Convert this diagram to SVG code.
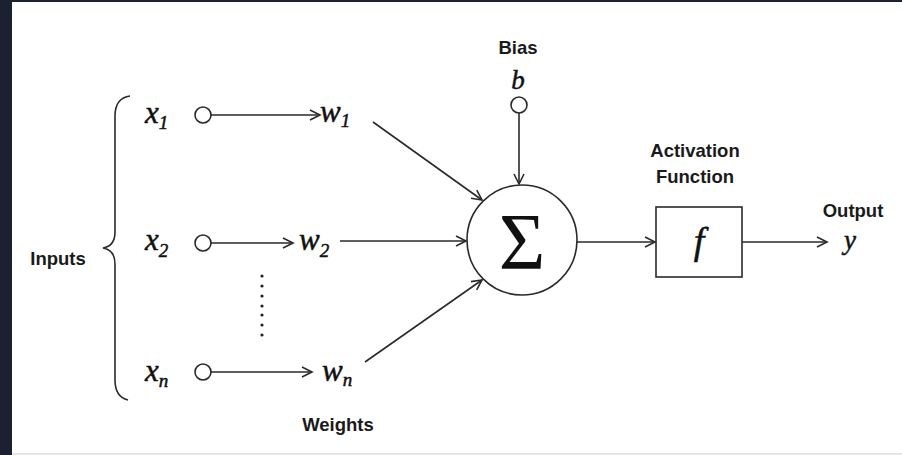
<svg xmlns="http://www.w3.org/2000/svg" width="902" height="455" viewBox="0 0 902 455">
<style>
.ln{stroke:#2a2a2a;stroke-width:1.6;fill:none}
.cir{stroke:#2a2a2a;stroke-width:1.6;fill:#fff}
.lbl{font-family:"Liberation Sans",Arial,sans-serif;font-size:18.5px;font-weight:bold;fill:#1a1a1a;text-anchor:middle}
.m{font-family:"Liberation Serif","Times New Roman",serif;font-style:italic;fill:#111;stroke:#111;stroke-width:0.5}
.v{font-size:31px}
.s{font-size:19px}
</style>
<defs>
<marker id="arr" markerUnits="userSpaceOnUse" markerWidth="14" markerHeight="14" refX="11" refY="6" orient="auto">
<path d="M1,1 L11,6 L1,11" fill="none" stroke="#2a2a2a" stroke-width="1.6"/>
</marker>
</defs>
<rect x="0" y="0" width="902" height="455" fill="#1b2130"/>
<rect x="12" y="2" width="890" height="451" fill="#fff"/>
<rect x="12" y="453" width="890" height="2" fill="#e6e6e6"/>

<g id="connectors">
<line class="ln" x1="211" y1="115" x2="320" y2="115" marker-end="url(#arr)"/>
<line class="ln" x1="211" y1="243" x2="293" y2="243" marker-end="url(#arr)"/>
<line class="ln" x1="211" y1="372" x2="312" y2="372" marker-end="url(#arr)"/>
<line class="ln" x1="373" y1="122" x2="482" y2="200" marker-end="url(#arr)"/>
<line class="ln" x1="340" y1="241" x2="466" y2="241" marker-end="url(#arr)"/>
<line class="ln" x1="365" y1="362" x2="482" y2="280" marker-end="url(#arr)"/>
<line class="ln" x1="519" y1="113" x2="519" y2="184" marker-end="url(#arr)"/>
<line class="ln" x1="577" y1="242" x2="655" y2="242" marker-end="url(#arr)"/>
<line class="ln" x1="742" y1="242" x2="827" y2="242" marker-end="url(#arr)"/>
</g>

<g id="inputs-brace">
<path class="ln" d="M130,96 Q115,98 115,116 L115,232 Q115,246 103,248 Q115,250 115,264 L115,380 Q115,397 128,400"/>
<text class="lbl" x="58" y="265">Inputs</text>
</g>

<g id="x1">
<text class="m" x="145" y="123"><tspan class="v">x</tspan><tspan class="s" dy="6">1</tspan></text>
<circle class="cir" cx="203" cy="115" r="8"/>
</g>
<g id="x2">
<text class="m" x="145" y="250"><tspan class="v">x</tspan><tspan class="s" dy="7">2</tspan></text>
<circle class="cir" cx="203" cy="243" r="8"/>
</g>
<g id="xn">
<text class="m" x="145" y="381"><tspan class="v">x</tspan><tspan class="s" dy="6">n</tspan></text>
<circle class="cir" cx="203" cy="372" r="8"/>
</g>

<g id="dots" fill="#222">
<circle cx="262" cy="276" r="1.6"/>
<circle cx="262" cy="286" r="1.6"/>
<circle cx="262" cy="296" r="1.6"/>
<circle cx="262" cy="306" r="1.6"/>
<circle cx="262" cy="315" r="1.6"/>
<circle cx="262" cy="325" r="1.6"/>
<circle cx="262" cy="335" r="1.6"/>
</g>

<g id="w1"><text class="m" x="320" y="122"><tspan class="v">w</tspan><tspan class="s" dy="5">1</tspan></text></g>
<g id="w2"><text class="m" x="299" y="250"><tspan class="v">w</tspan><tspan class="s" dy="7">2</tspan></text></g>
<g id="wn"><text class="m" x="322" y="381"><tspan class="v">w</tspan><tspan class="s" dy="5">n</tspan></text></g>
<g id="weights-label"><text class="lbl" x="338" y="431">Weights</text></g>

<g id="bias">
<text class="lbl" x="518" y="54">Bias</text>
<text class="m" x="518" y="89" font-size="27" text-anchor="middle">b</text>
<circle class="cir" cx="519" cy="105" r="8"/>
</g>

<g id="sum">
<circle class="cir" cx="522" cy="240" r="55"/>
<text x="522" y="269" font-family="'Liberation Serif','Times New Roman',serif" font-size="80" fill="#111" text-anchor="middle">Σ</text>
</g>

<g id="activation">
<text class="lbl" x="695" y="157">Activation</text>
<text class="lbl" x="695" y="183">Function</text>
<rect class="ln" x="656" y="207" width="86" height="70"/>
<text class="m" x="699" y="254" font-size="38" text-anchor="middle">f</text>
</g>

<g id="output">
<text class="lbl" x="853" y="217">Output</text>
<text class="m" x="850" y="249" font-size="27" text-anchor="middle">y</text>
</g>
</svg>
